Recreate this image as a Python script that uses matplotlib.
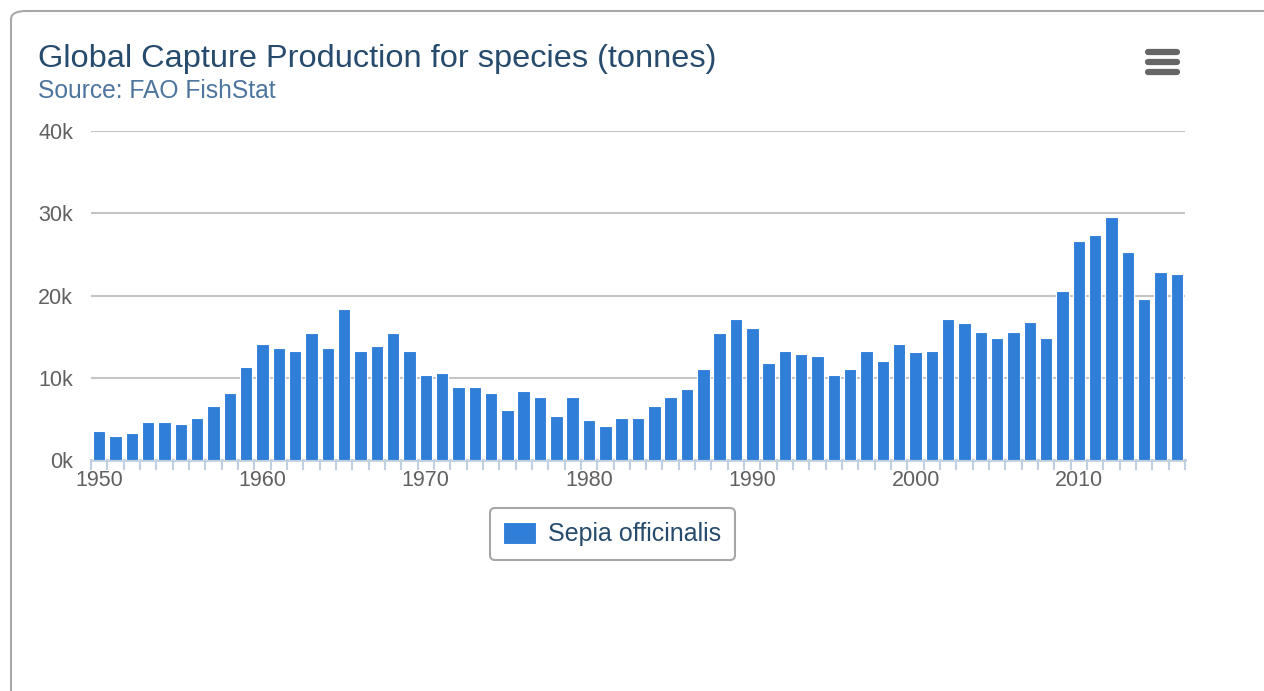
import numpy as np
import matplotlib.pyplot as plt
from matplotlib.patches import FancyBboxPatch

plt.rcParams['font.family'] = ['Liberation Sans', 'DejaVu Sans']

# Global capture production of Sepia officinalis, tonnes
years = list(range(1950, 2017))
tonnes = [
    3570, 2890, 3330, 4600, 4600, 4350, 5120, 6590, 8090, 11340,   # 1950s
    14100, 13600, 13300, 15400, 13600, 18300, 13300, 13900, 15400, 13300,  # 1960s
    10300, 10600, 8870, 8870, 8130, 6100, 8380, 7600, 5370, 7600,   # 1970s
    4880, 4100, 5120, 5120, 6590, 7600, 8620, 11100, 15400, 17100,  # 1980s
    16100, 11800, 13300, 12850, 12600, 10370, 11100, 13300, 12070, 14100,  # 1990s
    13100, 13300, 17100, 16600, 15600, 14850, 15600, 16800, 14850, 20600,  # 2000s
    26600, 27300, 29600, 25300, 19600, 22800, 22600,  # 2010s
]
y_ticks = [0, 10000, 20000, 30000, 40000]
y_labels = ['0k', '10k', '20k', '30k', '40k']
label_years = [1950, 1960, 1970, 1980, 1990, 2000, 2010]

W, H = 1264, 691
fig = plt.figure(figsize=(W / 100, H / 100), dpi=100)

# outer card border (runs off the right and bottom edges)
fig.patches.append(FancyBboxPatch((11 / W, -0.2), 1.2, 1 - 11 / H + 0.2,
                                  boxstyle='round,pad=0,rounding_size=0.012',
                                  transform=fig.transFigure, facecolor='none',
                                  edgecolor='#a8a8a8', linewidth=1.5))

ax = fig.add_axes([91 / W, 1 - 460 / H, (1185 - 91) / W, (460 - 131) / H])
x = np.arange(len(years))
ax.bar(x, tonnes, width=0.76, color='#2f7ed8', edgecolor='white',
       linewidth=0.8, label='Sepia officinalis', zorder=3)

ax.set_xlim(-0.5, len(years) - 0.5)
ax.set_ylim(0, 40000)
ax.set_yticks(y_ticks)
ax.set_yticklabels(y_labels)
ax.tick_params(axis='y', length=0, pad=13, labelsize=15.5, labelcolor='#606060')
ax.yaxis.grid(True, color='#c4c4c4', linewidth=1.5, zorder=0)

ax.set_xticks(np.arange(len(years) + 1) - 0.5)
ax.set_xticklabels([])
ax.tick_params(axis='x', which='major', length=7, width=1.5, color='#c0d0e0')
ax.set_xticks([years.index(yr) for yr in label_years], minor=True)
ax.set_xticklabels([str(yr) for yr in label_years], minor=True)
ax.tick_params(axis='x', which='minor', length=0, pad=7, labelsize=15.5,
               labelcolor='#606060')

for side in ['left', 'right', 'top']:
    ax.spines[side].set_visible(False)
ax.spines['bottom'].set_color('#c0d0e0')
ax.spines['bottom'].set_linewidth(2)

fig.text(38 / W, 1 - 67 / H, 'Global Capture Production for species (tonnes)',
         fontsize=23.4, color='#274b6d', va='baseline', ha='left')
fig.text(38 / W, 1 - 98 / H, 'Source: FAO FishStat',
         fontsize=17.7, color='#4d759e', va='baseline', ha='left')

# export menu icon
for yy in [51.5, 61.5, 71.5]:
    fig.lines.append(plt.Line2D([1148 / W, 1177 / W], [1 - yy / H, 1 - yy / H],
                                transform=fig.transFigure, color='#666666',
                                linewidth=4.5, solid_capstyle='round'))

leg = ax.legend(loc='center', bbox_to_anchor=(612.5 / W, 1 - 534 / H),
                bbox_transform=fig.transFigure, fontsize=18, frameon=True,
                fancybox=True, edgecolor='#909090', handlelength=1.3,
                handleheight=1.0, handletextpad=0.5, borderpad=0.55,
                labelcolor='#274b6d')
leg.get_frame().set_linewidth(1.5)

fig.savefig('out.png', dpi=100)
